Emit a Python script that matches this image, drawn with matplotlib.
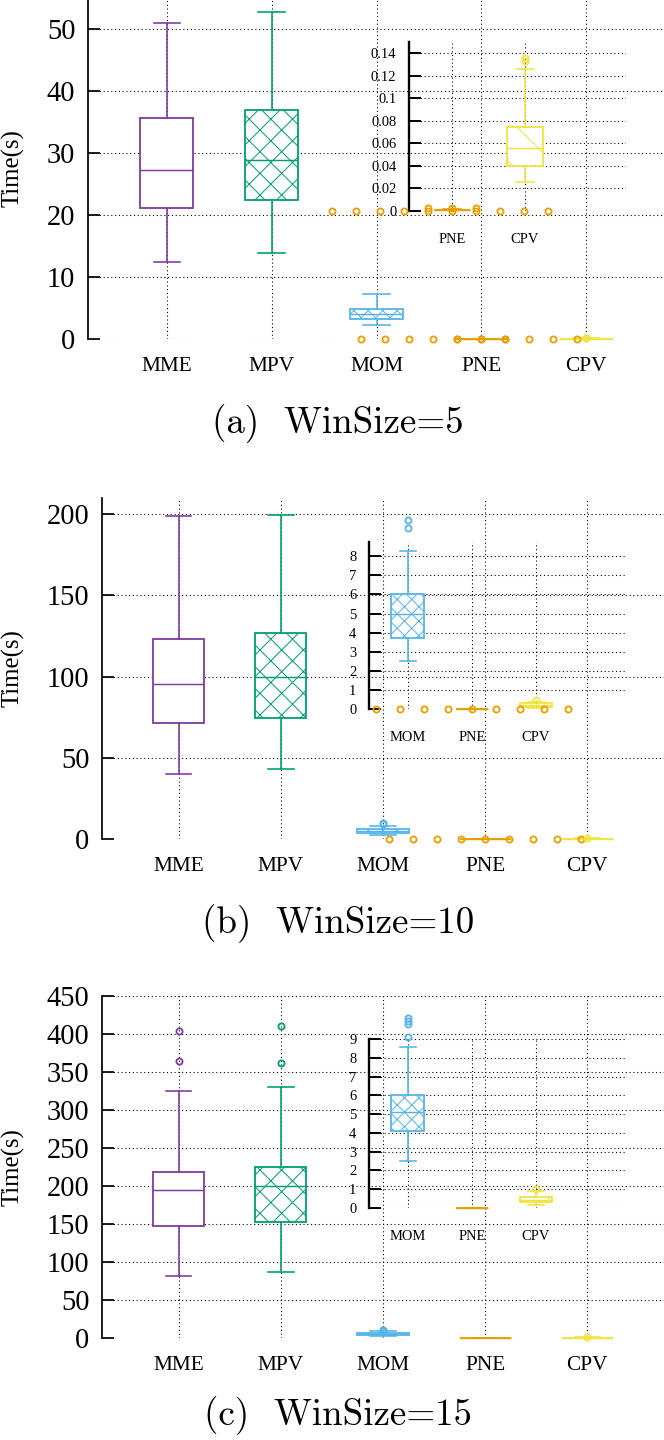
import numpy as np
import matplotlib
matplotlib.use("agg")
import matplotlib.pyplot as plt
from matplotlib.transforms import ScaledTranslation

plt.rcParams["font.family"] = ["Liberation Serif", "DejaVu Serif"]
plt.rcParams["hatch.linewidth"] = 0.55

methods = ["MME", "MPV", "MOM", "PNE", "CPV"]
colors = ["#7E3B9E", "#009E73", "#56B4E9", "#E69F00", "#F0E442"]
hatches = ["", "xx", "xxx", "", "\\"]

captions = ["(a)  WinSize=5", "(b)  WinSize=10", "(c)  WinSize=15"]

# whislo, q1, med, q3, whishi per method
win5_stats = [[12.5, 21.2, 27.3, 35.6, 51.0],
              [13.8, 22.5, 28.8, 37.0, 52.8],
              [2.3, 3.3, 4.0, 4.9, 7.2],
              [0.0010, 0.0011, 0.0012, 0.0013, 0.0014],
              [0.026, 0.040, 0.056, 0.075, 0.126]]
win5_fliers = [[], [], [],
               [0.0, 0.0, 0.0, 0.0, 0.0, 0.0, 0.0, 0.0, 0.0, 0.0, 0.0028, 0.0028, 0.0028],
               [0.133, 0.136]]

win10_stats = [[40.0, 71.5, 95.5, 123.0, 199.0],
               [43.0, 74.5, 100.0, 127.0, 199.5],
               [2.5, 3.7, 5.0, 6.0, 8.3],
               [0.008, 0.009, 0.010, 0.011, 0.012],
               [0.05, 0.12, 0.20, 0.30, 0.38]]
win10_fliers = [[], [], [9.5, 9.9],
                [0.0, 0.0, 0.0, 0.0, 0.0, 0.0, 0.0, 0.0, 0.0],
                [0.47]]

win15_stats = [[82.0, 148.0, 195.0, 219.0, 325.0],
               [87.0, 153.0, 200.0, 225.0, 330.0],
               [2.5, 4.1, 5.1, 6.0, 8.6],
               [0.0, 0.0, 0.0, 0.0, 0.0],
               [0.18, 0.32, 0.43, 0.59, 0.9]]
win15_fliers = [[365.0, 404.0], [362.0, 410.0], [9.1, 9.8, 9.95, 10.1], [], [1.0]]

main_ylims = [55, 210, 450]
main_ysteps = [10, 50, 50]
inset_ylims = [0.15, 8.75, 9]
inset_ysteps = [0.02, 1, 1]
inset_members = [[3, 4], [2, 3, 4], [2, 3, 4]]

W, H, DPI = 664, 1440, 130
fig = plt.figure(figsize=(W / DPI, H / DPI), dpi=DPI)

JIT = 24  # px between jittered points
GRID = dict(color="black", linestyle=(0, (1, 2.5)), linewidth=0.6)


def px_rect(x0, x1, ytop, ybot):
    return [x0 / W, 1 - ybot / H, (x1 - x0) / W, (ybot - ytop) / H]


def draw_boxes(ax, idx, stats, fliers):
    bs = []
    for i in idx:
        s = stats[i]
        bs.append(dict(whislo=s[0], q1=s[1], med=s[2], q3=s[3], whishi=s[4], fliers=[]))
    pos = [i + 1 for i in idx]
    r = ax.bxp(bs, positions=pos, widths=0.5, patch_artist=True, showfliers=False,
               manage_ticks=False, zorder=3)
    for j, i in enumerate(idx):
        c = colors[i]
        r["boxes"][j].set(edgecolor=c, facecolor="white", linewidth=1.0, hatch=hatches[i],
                          clip_on=False)
        r["medians"][j].set(color=c, linewidth=0.8, clip_on=False)
        for k in (2 * j, 2 * j + 1):
            r["whiskers"][k].set(color=c, linewidth=0.9, clip_on=False)
            r["caps"][k].set(color=c, linewidth=0.9, clip_on=False)
        # jitter identical outliers sideways like gnuplot
        counts = {}
        for v in fliers[i]:
            n = counts.get(v, 0)
            counts[v] = n + 1
            step = ((n + 1) // 2) * (-1 if n % 2 else 1)
            tr = ax.transData + ScaledTranslation(step * JIT / DPI, 0, fig.dpi_scale_trans)
            ax.plot([i + 1], [v], "o", mfc="none", mec=c, ms=3.4, mew=1.0,
                    transform=tr, clip_on=False, zorder=6)


main_rects = [px_rect(88, 665, -2, 339), px_rect(102, 664, 498, 839), px_rect(102, 664, 996, 1338)]
inset_rects = [px_rect(409, 626, 42, 211), px_rect(369, 626, 542, 709), px_rect(369, 626, 1039, 1208)]
inset_xlims = [(3.4, 6.4), (2.4, 6.4), (2.4, 6.4)]
caption_base = [433, 933, 1425]

all_stats = [win5_stats, win10_stats, win15_stats]
all_fliers = [win5_fliers, win10_fliers, win15_fliers]

for p in range(3):
    ax = fig.add_axes(main_rects[p])
    ax.set_facecolor("none")
    draw_boxes(ax, range(5), all_stats[p], all_fliers[p])
    ax.set_xlim(0.25, 5.75)
    ax.set_ylim(0, main_ylims[p])
    ax.set_yticks(np.arange(0, main_ylims[p] + 0.01, main_ysteps[p]))
    ax.set_xticks(range(1, 6))
    ax.set_xticklabels(methods)
    ax.tick_params(axis="x", length=0, pad=10, labelsize=11.8)
    ax.tick_params(axis="y", direction="in", length=6.6, width=0.95, pad=7, labelsize=15.8)
    for sp in ["top", "right", "bottom"]:
        ax.spines[sp].set_visible(False)
    ax.spines["left"].set_linewidth(0.95)
    ax.set_axisbelow(True)
    ax.grid(True, **GRID)
    mid = main_rects[p][1] + main_rects[p][3] / 2
    fig.text(13 / W, mid, "Time(s)", rotation=90, ha="center", va="center", fontsize=13.8)

    ins = fig.add_axes(inset_rects[p])
    ins.set_facecolor("none")
    idx = inset_members[p]
    draw_boxes(ins, idx, all_stats[p], all_fliers[p])
    ins.set_xlim(*inset_xlims[p])
    ins.set_ylim(0, inset_ylims[p])
    yt = np.arange(0, inset_ylims[p] + 1e-9, inset_ysteps[p])
    ins.set_yticks(yt)
    ins.set_yticklabels(["%g" % round(v, 2) for v in yt])
    ins.set_xticks([i + 1 for i in idx])
    ins.set_xticklabels([methods[i] for i in idx])
    ins.tick_params(axis="x", length=0, pad=12, labelsize=8)
    ins.tick_params(axis="y", direction="in", length=6.6, width=1.1, pad=7, labelsize=8)
    for sp in ["top", "right", "bottom"]:
        ins.spines[sp].set_visible(False)
    ins.spines["left"].set_linewidth(1.3)
    ins.set_axisbelow(True)
    ins.grid(True, **GRID)

    fig.text(338 / W, 1 - caption_base[p] / H, captions[p], family=["cmr10", "DejaVu Serif"],
             fontsize=20.5, ha="center", va="baseline")

fig.savefig("out.png", dpi=DPI)
